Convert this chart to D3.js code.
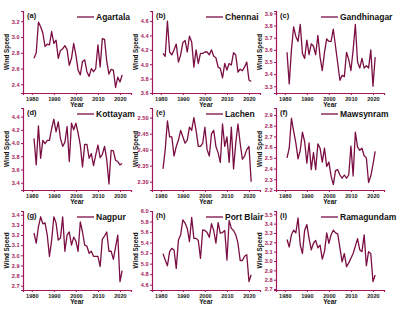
<!DOCTYPE html>
<html>
<head>
<meta charset="utf-8">
<script src="https://cdn.jsdelivr.net/npm/d3@7"></script>
<style>
  body { margin: 0; background: #fff; }
  svg { display: block; font-family: "Liberation Sans", Arial, sans-serif; }
</style>
</head>
<body>
<div id="chart"></div>
<script>
var years = [1981, 1982, 1983, 1984, 1985, 1986, 1987, 1988, 1989, 1990,
             1991, 1992, 1993, 1994, 1995, 1996, 1997, 1998, 1999, 2000,
             2001, 2002, 2003, 2004, 2005, 2006, 2007, 2008, 2009, 2010,
             2011, 2012, 2013, 2014, 2015, 2016, 2017, 2018, 2019, 2020, 2021];

var agartala = [2.73, 2.80, 3.19, 3.13, 3.05, 2.88, 2.91, 2.90, 3.07, 2.92, 2.96, 2.73, 2.83, 2.85,
                2.89, 2.84, 2.64, 2.73, 2.92, 2.77, 2.58, 2.52, 2.69, 2.71, 2.56, 2.50, 2.60, 2.56,
                2.60, 2.90, 2.62, 2.98, 2.97, 2.69, 2.53, 2.59, 2.58, 2.36, 2.49, 2.43, 2.52];
var chennai = [4.15, 4.11, 4.60, 4.17, 4.13, 4.20, 4.28, 4.03, 4.13, 4.30, 4.33, 4.17, 4.39, 4.31,
               3.96, 4.20, 4.01, 4.15, 4.15, 4.17, 4.17, 4.13, 4.20, 4.11, 4.09, 3.96, 3.94, 3.81,
               4.01, 3.92, 4.01, 3.99, 4.16, 4.13, 3.89, 3.93, 3.91, 3.96, 4.03, 3.78, 3.76];
var gandhinagar = [3.58, 3.32, 3.60, 3.79, 3.71, 3.67, 3.81, 3.57, 3.53, 3.68, 3.56, 3.65, 3.63, 3.56,
                   3.72, 3.54, 3.43, 3.58, 3.69, 3.67, 3.67, 3.77, 3.63, 3.49, 3.35, 3.39, 3.38, 3.58,
                   3.52, 3.43, 3.60, 3.81, 3.50, 3.45, 3.53, 3.45, 3.47, 3.45, 3.60, 3.30, 3.54];
var kottayam = [4.07, 3.67, 4.26, 3.77, 4.04, 3.99, 4.04, 4.04, 4.22, 4.36, 4.17, 4.32, 4.07, 3.95,
                4.01, 4.25, 3.72, 4.30, 4.20, 4.30, 4.15, 3.97, 3.64, 3.98, 3.98, 3.77, 3.84, 3.66,
                3.82, 3.97, 3.78, 3.83, 3.95, 3.75, 3.38, 3.89, 3.88, 3.74, 3.72, 3.67, 3.69];
var lachen = [2.34, 2.40, 2.49, 2.44, 2.44, 2.38, 2.41, 2.43, 2.46, 2.44, 2.42, 2.43, 2.47, 2.46,
              2.50, 2.46, 2.41, 2.41, 2.42, 2.47, 2.40, 2.38, 2.45, 2.46, 2.41, 2.39, 2.36, 2.48,
              2.41, 2.44, 2.36, 2.47, 2.34, 2.42, 2.48, 2.42, 2.37, 2.38, 2.40, 2.41, 2.30];
var mawsynram = [2.50, 2.59, 2.87, 2.75, 2.64, 2.49, 2.57, 2.74, 2.65, 2.45, 2.64, 2.39, 2.55, 2.39,
                 2.63, 2.59, 2.46, 2.59, 2.42, 2.46, 2.33, 2.25, 2.38, 2.39, 2.34, 2.31, 2.34, 2.31,
                 2.34, 2.61, 2.33, 2.74, 2.60, 2.57, 2.59, 2.52, 2.50, 2.27, 2.33, 2.44, 2.56];
var nagpur = [3.22, 3.12, 3.28, 3.38, 3.31, 3.32, 3.20, 2.99, 3.15, 3.38, 3.32, 3.15, 3.17, 3.38,
              3.04, 3.20, 3.23, 3.10, 3.18, 3.14, 3.04, 3.33, 3.23, 3.10, 3.09, 3.02, 3.04, 2.99,
              2.99, 2.99, 2.89, 3.16, 3.19, 3.23, 3.04, 3.04, 2.96, 3.08, 3.20, 2.74, 2.85];
var portBlair = [5.19, 5.07, 4.96, 5.23, 5.29, 5.26, 4.91, 5.45, 5.55, 5.83, 5.77, 5.67, 5.42, 5.88,
                 5.48, 5.48, 5.44, 5.10, 5.64, 5.63, 5.59, 5.50, 5.76, 5.63, 5.39, 5.78, 5.58, 5.59,
                 5.63, 5.07, 5.82, 5.67, 5.63, 5.55, 5.39, 5.06, 5.06, 5.14, 5.17, 4.66, 4.79];
var ramagundam = [3.23, 3.15, 3.28, 3.33, 3.30, 3.46, 3.17, 3.08, 3.33, 3.39, 3.24, 3.12, 3.19, 3.22,
                  3.14, 3.17, 3.02, 3.10, 3.30, 3.19, 3.28, 3.33, 3.30, 3.29, 3.14, 2.99, 3.08, 2.94,
                  2.98, 3.03, 3.08, 3.16, 3.24, 3.12, 3.10, 3.28, 2.95, 3.10, 3.08, 2.78, 2.85];

var stations = ["Agartala", "Chennai", "Gandhinagar", "Kottayam", "Lachen", "Mawsynram",
                "Nagpur", "Port Blair", "Ramagundam"];
var letters = ["(a)", "(b)", "(c)", "(d)", "(e)", "(f)", "(g)", "(h)", "(i)"];
var series = [agartala, chennai, gandhinagar, kottayam, lachen, mawsynram, nagpur, portBlair, ramagundam];

var yDomains = [[2.29, 3.33], [3.6, 4.74], [3.245, 3.92],
                [3.29, 4.53], [2.274, 2.53], [2.2, 2.965],
                [2.658, 3.437], [4.5, 6.0], [2.69, 3.535]];
var yTicks = [[2.4, 2.6, 2.8, 3.0, 3.2],
              [3.6, 3.8, 4.0, 4.2, 4.4, 4.6],
              [3.3, 3.4, 3.5, 3.6, 3.7, 3.8, 3.9],
              [3.4, 3.6, 3.8, 4.0, 4.2, 4.4],
              [2.30, 2.35, 2.40, 2.45, 2.50],
              [2.2, 2.3, 2.4, 2.5, 2.6, 2.7, 2.8, 2.9],
              [2.7, 2.8, 2.9, 3.0, 3.1, 3.2, 3.3, 3.4],
              [4.6, 4.8, 5.0, 5.2, 5.4, 5.6, 5.8, 6.0],
              [2.7, 2.8, 2.9, 3.0, 3.1, 3.2, 3.3, 3.4, 3.5]];
var yFormats = [".1f", ".1f", ".1f", ".1f", ".2f", ".1f", ".1f", ".1f", ".1f"];
var xTicks = [1980, 1990, 2000, 2010, 2020];

var W = 408, H = 314;
var colLeft = [23, 152, 276], plotW = 108;
var rowTop = [11, 108, 211], rowBottom = [93, 190, 290];
var legendOffset = [54, 54, 45];
var lineColor = "#7b0f44", axisColor = "#a3175a";

var svg = d3.select("#chart").append("svg")
    .attr("width", W)
    .attr("height", H);

series.forEach(function (values, i) {
    var col = i % 3, row = Math.floor(i / 3);
    var left = colLeft[col], top = rowTop[row], bottom = rowBottom[row];

    var x = d3.scaleLinear().domain([1976, 2025]).range([left, left + plotW]);
    var y = d3.scaleLinear().domain(yDomains[i]).range([bottom, top]);

    var g = svg.append("g");

    // x axis
    var xa = g.append("g")
        .attr("transform", "translate(0," + bottom + ")")
        .call(d3.axisBottom(x).tickValues(xTicks).tickFormat(d3.format("d")).tickSize(2).tickPadding(2));
    xa.select(".domain").attr("stroke", axisColor).attr("stroke-width", 1.2);
    xa.selectAll(".tick line").attr("stroke", axisColor);
    xa.selectAll("text").attr("fill", "#222").attr("font-size", 5.6).attr("font-weight", "bold")
        .attr("font-family", "Liberation Sans, Arial, sans-serif");

    // y axis
    var ya = g.append("g")
        .attr("transform", "translate(" + left + ",0)")
        .call(d3.axisLeft(y).tickValues(yTicks[i]).tickFormat(d3.format(yFormats[i])).tickSize(2).tickPadding(1.5));
    ya.select(".domain").attr("stroke", axisColor).attr("stroke-width", 1.2);
    ya.selectAll(".tick line").attr("stroke", axisColor);
    ya.selectAll("text").attr("fill", axisColor).attr("font-size", 5.6).attr("font-weight", "bold")
        .attr("font-family", "Liberation Sans, Arial, sans-serif");

    // series line
    var line = d3.line()
        .x(function (d, k) { return x(years[k]); })
        .y(function (d) { return y(d); });

    g.append("path")
        .datum(values)
        .attr("fill", "none")
        .attr("stroke", lineColor)
        .attr("stroke-width", 1.3)
        .attr("stroke-linejoin", "round")
        .attr("d", line);

    // panel letter
    g.append("text")
        .attr("x", left + 4)
        .attr("y", top + 7)
        .attr("font-size", 7.5)
        .attr("font-weight", "bold")
        .attr("fill", "#111")
        .text(letters[i]);

    // legend
    var lx = left + legendOffset[col], ly = top + 6;
    g.append("line")
        .attr("x1", lx).attr("x2", lx + 17)
        .attr("y1", ly).attr("y2", ly)
        .attr("stroke", lineColor)
        .attr("stroke-width", 1.3);
    g.append("text")
        .attr("x", lx + 19)
        .attr("y", ly + 3.2)
        .attr("font-size", 8.5)
        .attr("font-weight", "bold")
        .attr("fill", "#111")
        .text(stations[i]);

    // axis titles
    g.append("text")
        .attr("transform", "translate(" + (left - 14) + "," + ((top + bottom) / 2) + ") rotate(-90)")
        .attr("text-anchor", "middle")
        .attr("font-size", 6.3)
        .attr("font-weight", "bold")
        .attr("fill", "#111")
        .text("Wind Speed");
    g.append("text")
        .attr("x", left + plotW / 2)
        .attr("y", bottom + 14)
        .attr("text-anchor", "middle")
        .attr("font-size", 6.5)
        .attr("font-weight", "bold")
        .attr("fill", "#111")
        .text("Year");
});
</script>
</body>
</html>
